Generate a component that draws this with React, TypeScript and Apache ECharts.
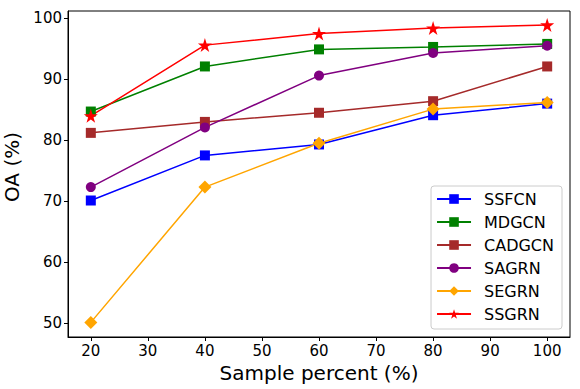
import React, { useEffect, useRef } from "react";
import * as echarts from "echarts";

const xValues = [20, 40, 60, 80, 100];
const xTicks = [20, 30, 40, 50, 60, 70, 80, 90, 100];
const yTicks = [50, 60, 70, 80, 90, 100];

const ssfcn = [70.1, 77.5, 79.3, 84.1, 86.0];
const mdgcn = [84.7, 92.1, 94.9, 95.3, 95.8];
const cadgcn = [81.2, 83.0, 84.5, 86.4, 92.1];
const sagrn = [72.3, 82.1, 90.6, 94.3, 95.5];
const segrn = [50.1, 72.3, 79.5, 85.1, 86.2];
const ssgrn = [84.0, 95.6, 97.5, 98.4, 98.9];

const STAR =
  "path://M0,-10 L2.245,-3.09 L9.51,-3.09 L3.633,1.18 L5.878,8.09 L0,3.82 L-5.878,8.09 L-3.633,1.18 L-9.51,-3.09 L-2.245,-3.09 Z";

const seriesDefs = [
  { name: "SSFCN", data: ssfcn, color: "#0000ff", symbol: "rect", size: 10 },
  { name: "MDGCN", data: mdgcn, color: "#008000", symbol: "rect", size: 10 },
  { name: "CADGCN", data: cadgcn, color: "#a52a2a", symbol: "rect", size: 10 },
  { name: "SAGRN", data: sagrn, color: "#800080", symbol: "circle", size: 10 },
  { name: "SEGRN", data: segrn, color: "#ffa500", symbol: "diamond", size: 13 },
  { name: "SSGRN", data: ssgrn, color: "#ff0000", symbol: STAR, size: 14 },
];

export default function App() {
  const ref = useRef<HTMLDivElement>(null);
  useEffect(() => {
    if (!ref.current) return;
    const chart = echarts.init(ref.current, null, { renderer: "svg" });
    const font = "DejaVu Sans";
    chart.setOption({
      animation: false,
      backgroundColor: "#ffffff",
      textStyle: { fontFamily: font },
      grid: {
        left: 68,
        right: 10,
        top: 11,
        bottom: 52,
        containLabel: false,
        outerBoundsMode: "none",
        show: true,
        borderColor: "#000000",
        borderWidth: 1,
        backgroundColor: "transparent",
      },
      legend: {
        orient: "vertical",
        right: 18,
        bottom: 60,
        backgroundColor: "rgba(255,255,255,0.8)",
        borderColor: "#cccccc",
        borderWidth: 1,
        borderRadius: 3,
        padding: [5, 8, 7, 5],
        itemWidth: 34,
        itemHeight: 12,
        itemGap: 7,
        textStyle: {
          fontFamily: font,
          fontSize: 16,
          lineHeight: 16,
          color: "#000000",
          padding: [0, 0, 0, 8],
        },
        data: seriesDefs.map((s) => s.name),
      },
      xAxis: {
        type: "value",
        min: 16,
        max: 104,
        name: "Sample percent (%)",
        nameLocation: "middle",
        nameGap: 25,
        nameTextStyle: { fontFamily: font, fontSize: 20, color: "#000000" },
        axisLine: { show: true, lineStyle: { color: "#000000", width: 1 } },
        axisTick: { show: true, length: 4, customValues: xTicks, lineStyle: { color: "#000000" } },
        axisLabel: { customValues: xTicks, fontFamily: font, fontSize: 15, color: "#000000", margin: 6 },
        splitLine: { show: false },
      },
      yAxis: {
        type: "value",
        min: 47.7,
        max: 101.2,
        name: "OA (%)",
        nameLocation: "middle",
        nameGap: 41,
        nameTextStyle: { fontFamily: font, fontSize: 20, color: "#000000", padding: [0, 0, 0, 14] },
        axisLine: { show: true, lineStyle: { color: "#000000", width: 1 } },
        axisTick: { show: true, length: 4, customValues: yTicks, lineStyle: { color: "#000000" } },
        axisLabel: { customValues: yTicks, fontFamily: font, fontSize: 15, color: "#000000", margin: 6 },
        splitLine: { show: false },
      },
      series: seriesDefs.map((s) => ({
        name: s.name,
        type: "line",
        data: s.data.map((v, i) => [xValues[i], v]),
        symbol: s.symbol,
        symbolSize: s.size,
        showAllSymbol: true,
        color: s.color,
        lineStyle: { color: s.color, width: 1.5 },
        itemStyle: { color: s.color },
      })),
    });
    return () => chart.dispose();
  }, []);
  return <div ref={ref} style={{ width: 580, height: 389, position: "absolute", left: 0, top: 0 }} />;
}
